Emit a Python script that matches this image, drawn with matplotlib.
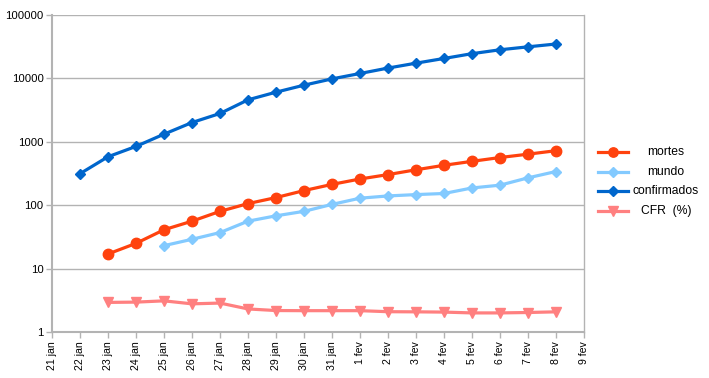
import numpy as np
import matplotlib
matplotlib.use("Agg")
import matplotlib.pyplot as plt
from matplotlib.lines import Line2D

dates = ["21 jan", "22 jan", "23 jan", "24 jan", "25 jan", "26 jan", "27 jan",
         "28 jan", "29 jan", "30 jan", "31 jan", "1 fev", "2 fev", "3 fev",
         "4 fev", "5 fev", "6 fev", "7 fev", "8 fev", "9 fev"]
nan = np.nan
confirmados = [nan, 314, 581, 846, 1320, 2014, 2798, 4593, 6065, 7818, 9826,
               11953, 14557, 17391, 20630, 24554, 28276, 31481, 34886, nan]
mortes = [nan, nan, 17, 25, 41, 56, 80, 106, 132, 170, 213, 259, 304, 362,
          426, 492, 565, 638, 724, nan]
mundo = [nan, nan, nan, nan, 23, 29, 37, 56, 68, 80, 103, 129, 140, 147,
         153, 187, 207, 270, 340, nan]
cfr = [nan, nan, 2.93, 2.96, 3.1, 2.78, 2.86, 2.31, 2.18, 2.17, 2.17, 2.17,
       2.09, 2.08, 2.06, 2.0, 2.0, 2.03, 2.08, nan]
series_names = ["mortes", "mundo", "confirmados", "CFR  (%)"]

colors = {"mortes": "#ff420e", "mundo": "#83caff",
          "confirmados": "#0066cc", "CFR  (%)": "#ff8080"}
markers = {"mortes": ("o", 7.5), "mundo": ("D", 5.5),
           "confirmados": ("D", 5.5), "CFR  (%)": ("v", 7.5)}
data = {"mortes": mortes, "mundo": mundo, "confirmados": confirmados,
        "CFR  (%)": cfr}

plt.rcParams['font.family'] = ['Liberation Sans', 'DejaVu Sans']
fig = plt.figure(figsize=(7.09, 3.78), dpi=100)
ax = fig.add_axes([52/709, 1-332/378, (584-52)/709, (332-15)/378])

x = np.arange(len(dates))
for name in ["confirmados", "CFR  (%)", "mundo", "mortes"]:
    m, ms = markers[name]
    ax.plot(x, data[name], color=colors[name], lw=2.3, marker=m, ms=ms,
            zorder=3)

ax.set_yscale('log')
ax.set_ylim(1, 100000)
ax.set_xlim(0, len(dates)-1)
ax.set_yticks([1, 10, 100, 1000, 10000, 100000])
ax.set_yticklabels(["1", "10", "100", "1000", "10000", "100000"])
ax.yaxis.set_minor_locator(matplotlib.ticker.NullLocator())
ax.set_xticks(x)
ax.set_xticklabels(dates, rotation=90)
ax.tick_params(axis='both', color='#b3b3b3', length=4,
               width=1, labelcolor='black')
ax.tick_params(axis='y', pad=2, labelsize=8.2)
ax.tick_params(axis='x', pad=3, labelsize=7.6)
ax.grid(axis='y', color='#b3b3b3', lw=1)
ax.set_axisbelow(True)
for s in ['left', 'bottom']:
    ax.spines[s].set_color('#b3b3b3')
    ax.spines[s].set_linewidth(1.5)
ax.spines['right'].set_color('#b3b3b3')
ax.spines['right'].set_linewidth(1)
ax.spines['top'].set_visible(False)

# manual legend
leg_y = [152, 172, 191, 211]
for name, yy in zip(series_names, leg_y):
    yf = 1 - yy/378
    m, ms = markers[name]
    fig.add_artist(Line2D([598/709, 628/709], [yf, yf], color=colors[name],
                          lw=2.3))
    fig.add_artist(Line2D([613/709], [yf], color=colors[name], marker=m,
                          ms=ms*0.9, lw=0))
    fig.text(666/709, yf, name, ha='center', va='center', fontsize=8.7)

fig.savefig("out.png", dpi=100)
